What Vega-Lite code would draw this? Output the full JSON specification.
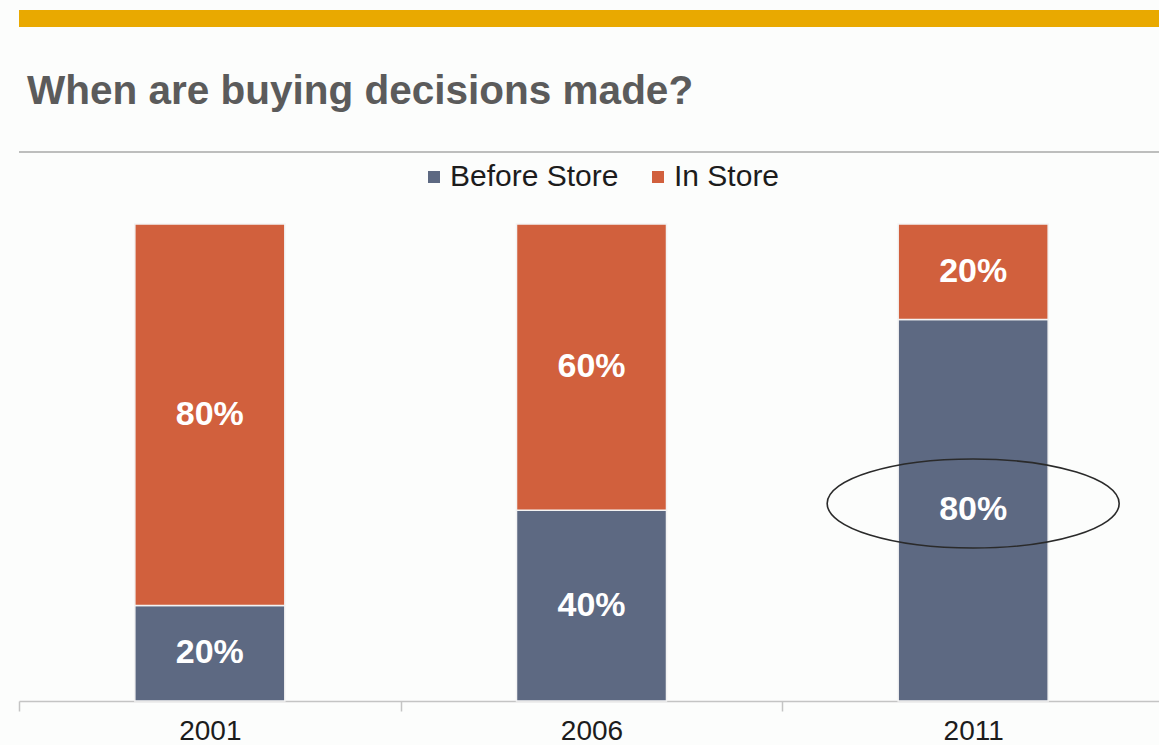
{
  "$schema": "https://vega.github.io/schema/vega-lite/v6.json",
  "width": 1145,
  "height": 477,
  "autosize": {"type": "none"},
  "padding": {"left": 19, "top": 224, "right": 0, "bottom": 44},
  "background": "#fcfdfc",
  "config": {"view": {"stroke": null}, "font": "Liberation Sans"},
  "title": {
    "text": "When are buying decisions made?",
    "anchor": "start",
    "frame": "group",
    "fontSize": 40.5,
    "fontWeight": "bold",
    "color": "#5b5b5b",
    "dx": 8,
    "offset": -102
  },
  "data": {
    "values": [
      {"year": "2001", "type": "Before Store", "value": 0.2},
      {"year": "2001", "type": "In Store", "value": 0.8},
      {"year": "2006", "type": "Before Store", "value": 0.4},
      {"year": "2006", "type": "In Store", "value": 0.6},
      {"year": "2011", "type": "Before Store", "value": 0.8},
      {"year": "2011", "type": "In Store", "value": 0.2}
    ]
  },
  "layer": [
    {
      "data": {"values": [{}]},
      "mark": {"type": "rect", "color": "#E9A900"},
      "encoding": {
        "y": {"datum": 1.4486, "type": "quantitative", "axis": null},
        "y2": {"datum": 1.413}
      }
    },
    {
      "data": {"values": [{}]},
      "mark": {"type": "rule", "color": "#a8a8a8", "strokeWidth": 1.5},
      "encoding": {
        "y": {"datum": 1.151, "type": "quantitative", "axis": null}
      }
    },
    {
      "mark": {"type": "bar", "stroke": "#f3f3f3", "strokeWidth": 1.5},
      "encoding": {
        "x": {
          "field": "year",
          "type": "nominal",
          "scale": {"paddingInner": 0.607, "paddingOuter": 0.3035},
          "axis": {
            "title": null,
            "labelAngle": 0,
            "labelFontSize": 28,
            "labelColor": "#1c1c1c",
            "labelPadding": 6,
            "domainColor": "#c4c4c4",
            "tickColor": "#c4c4c4",
            "tickSize": 10,
            "tickOffset": -190.8,
            "labelOffset": 190.8,
            "domainWidth": 1.5,
            "tickWidth": 1.5
          }
        },
        "y": {
          "field": "value",
          "type": "quantitative",
          "stack": "zero",
          "scale": {"domain": [0, 1]},
          "axis": null
        },
        "order": {"field": "type", "sort": "ascending"},
        "color": {
          "field": "type",
          "type": "nominal",
          "scale": {"domain": ["Before Store", "In Store"], "range": ["#5D6982", "#D1603D"]},
          "legend": {
            "title": null,
            "orient": "none",
            "legendX": 400,
            "legendY": -62,
            "direction": "horizontal",
            "symbolType": "square",
            "symbolSize": 144,
            "symbolStrokeWidth": 0,
            "labelFontSize": 30,
            "labelColor": "#1c1c1c",
            "labelOffset": 1,
            "labelLimit": 400,
            "columnPadding": 24,
            "padding": 0
          }
        }
      }
    },
    {
      "transform": [
        {"stack": "value", "groupby": ["year"], "as": ["v0", "v1"], "sort": [{"field": "type", "order": "ascending"}]},
        {"fold": ["v0", "v1"], "as": ["edge", "pos"]},
        {"aggregate": [{"op": "mean", "field": "pos", "as": "mid"}, {"op": "max", "field": "value", "as": "share"}], "groupby": ["year", "type"]}
      ],
      "mark": {"type": "text", "color": "white", "fontSize": 34, "fontWeight": "bold", "baseline": "middle"},
      "encoding": {
        "x": {"field": "year", "type": "nominal"},
        "y": {"field": "mid", "type": "quantitative", "axis": null},
        "text": {"field": "share", "format": ".0%"}
      }
    },
    {
      "data": {"values": [{}]},
      "mark": {
        "type": "point",
        "shape": "M-1,0A1,0.305,0,1,0,1,0A1,0.305,0,1,0,-1,0Z",
        "size": 85264,
        "filled": false,
        "color": "#2a2a2a",
        "stroke": "#2a2a2a",
        "strokeWidth": 1.6,
        "opacity": 1
      },
      "encoding": {
        "x": {"datum": "2011", "type": "nominal"},
        "y": {"datum": 0.414, "type": "quantitative", "axis": null}
      }
    }
  ]
}
